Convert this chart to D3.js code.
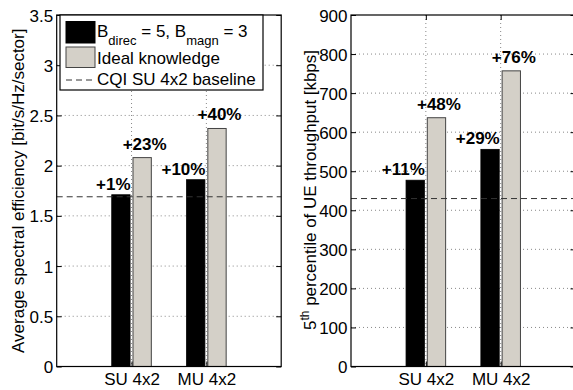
<!DOCTYPE html>
<html>
<head>
<meta charset="utf-8">
<script src="https://cdn.jsdelivr.net/npm/d3@7"></script>
<style>
  body { margin: 0; background: #fff; }
  svg { display: block; font-family: "Liberation Sans", Arial, Helvetica, sans-serif; }
</style>
</head>
<body>
<div id="chart"></div>
<script>
// values
var categories = ["SU 4x2", "MU 4x2"];

var seQuantized = [1.71, 1.86];
var seIdeal = [2.08, 2.37];
var seBaseline = 1.69;
var seGainQuantized = ["+1%", "+10%"];
var seGainIdeal = ["+23%", "+40%"];
var seTicks = [0, 0.5, 1, 1.5, 2, 2.5, 3, 3.5];

var tpQuantized = [477, 556];
var tpIdeal = [637, 757];
var tpBaseline = 430;
var tpGainQuantized = ["+11%", "+29%"];
var tpGainIdeal = ["+48%", "+76%"];
var tpTicks = [0, 100, 200, 300, 400, 500, 600, 700, 800, 900];

var legendLabels = ["Ideal knowledge", "CQI SU 4x2 baseline"];

var svg = d3.select("#chart").append("svg")
    .attr("width", 573)
    .attr("height", 390);

var plotTop = 15, plotBottom = 366.5, plotW = 224.5;
var grayFill = "#d4d0c8";

function drawPanel(x0, yMax, ticks, quant, ideal, baseline, gainQ, gainI) {
    var g = svg.append("g").attr("transform", "translate(" + x0 + ",0)");

    var x = d3.scaleLinear().domain([0, 3]).range([0, plotW]);
    var y = d3.scaleLinear().domain([0, yMax]).range([plotBottom, plotTop]);

    // dotted grid
    g.selectAll(".hgrid").data(ticks.slice(1, -1)).enter().append("line")
        .attr("x1", 0).attr("x2", plotW)
        .attr("y1", function (d) { return y(d); })
        .attr("y2", function (d) { return y(d); })
        .style("stroke", "#888").style("stroke-width", 1)
        .style("stroke-dasharray", "1,3");
    g.selectAll(".vgrid").data([1, 2]).enter().append("line")
        .attr("x1", function (d) { return x(d); })
        .attr("x2", function (d) { return x(d); })
        .attr("y1", plotTop).attr("y2", plotBottom)
        .style("stroke", "#888").style("stroke-width", 1)
        .style("stroke-dasharray", "1,3");

    var bw = x(0.245) - x(0);
    var off = x(0.142) - x(0);

    // quantized feedback bars
    g.selectAll(".barq").data(quant).enter().append("rect")
        .attr("x", function (d, i) { return x(i + 1) - off - bw / 2; })
        .attr("y", function (d) { return y(d); })
        .attr("width", bw)
        .attr("height", function (d) { return plotBottom - y(d); })
        .style("fill", "#000").style("stroke", "#000").style("stroke-width", 0.8);

    // ideal knowledge bars
    g.selectAll(".bari").data(ideal).enter().append("rect")
        .attr("x", function (d, i) { return x(i + 1) + off - bw / 2; })
        .attr("y", function (d) { return y(d); })
        .attr("width", bw)
        .attr("height", function (d) { return plotBottom - y(d); })
        .style("fill", grayFill).style("stroke", "#444").style("stroke-width", 1);

    // baseline
    g.append("line")
        .attr("x1", 0).attr("x2", plotW)
        .attr("y1", y(baseline)).attr("y2", y(baseline))
        .style("stroke", "#333").style("stroke-width", 1)
        .style("stroke-dasharray", "6,4");

    // gain labels
    g.selectAll(".gq").data(quant).enter().append("text")
        .attr("x", function (d, i) { return x(i + 1) - off + bw / 2 + 0.5; })
        .attr("y", function (d) { return y(d) - 5; })
        .style("text-anchor", "end")
        .style("font-size", "17px").style("font-weight", "bold")
        .text(function (d, i) { return gainQ[i]; });
    g.selectAll(".gi").data(ideal).enter().append("text")
        .attr("x", function (d, i) { return x(i + 1) + off + 2.5; })
        .attr("y", function (d) { return y(d) - 8; })
        .style("text-anchor", "middle")
        .style("font-size", "17px").style("font-weight", "bold")
        .text(function (d, i) { return gainI[i]; });

    // box
    g.append("rect")
        .attr("x", 0).attr("y", plotTop)
        .attr("width", plotW).attr("height", plotBottom - plotTop)
        .style("fill", "none").style("stroke", "#000").style("stroke-width", 1.2);

    // axes with inward ticks
    var yAxis = d3.axisLeft(y).tickValues(ticks).tickSize(-5).tickPadding(3.5)
        .tickFormat(d3.format("~g"));
    var ya = g.append("g").call(yAxis);
    ya.select(".domain").remove();
    ya.selectAll("text").style("font-size", "17px").attr("dy", "0.36em");

    var yAxisR = d3.axisRight(y).tickValues(ticks).tickSize(-5).tickFormat("");
    var yr = g.append("g").attr("transform", "translate(" + plotW + ",0)").call(yAxisR);
    yr.select(".domain").remove();

    var xAxis = d3.axisBottom(x).tickValues([1, 2]).tickSize(-5).tickPadding(6.4)
        .tickFormat(function (d) { return categories[d - 1]; });
    var xa = g.append("g").attr("transform", "translate(0," + plotBottom + ")").call(xAxis);
    xa.select(".domain").remove();
    xa.selectAll("text").style("font-size", "17px").attr("dy", "0.71em");

    var xAxisT = d3.axisTop(x).tickValues([1, 2]).tickSize(-5).tickFormat("");
    var xt = g.append("g").attr("transform", "translate(0," + plotTop + ")").call(xAxisT);
    xt.select(".domain").remove();

    return g;
}

drawPanel(56.7, 3.5, seTicks, seQuantized, seIdeal, seBaseline, seGainQuantized, seGainIdeal);
drawPanel(351, 900, tpTicks, tpQuantized, tpIdeal, tpBaseline, tpGainQuantized, tpGainIdeal);

// y labels
svg.append("text")
    .attr("transform", "translate(24," + (plotTop + plotBottom) / 2 + ") rotate(-90)")
    .style("text-anchor", "middle").style("font-size", "17px")
    .text("Average spectral efficiency [bit/s/Hz/sector]");

// right label is drawn narrower in the figure
var yl = svg.append("text")
    .style("text-anchor", "middle").style("font-size", "17px");
yl.append("tspan").text("5");
yl.append("tspan").attr("dy", "-7").style("font-size", "12px").text("th");
yl.append("tspan").attr("dy", "7").text(" percentile of UE throughput [kbps]");
var ylLen = yl.node().getComputedTextLength();
var ylScale = ylLen > 0 ? 280 / ylLen : 1;
yl.attr("transform", "translate(316,190) rotate(-90) scale(" + ylScale + ",1)");

// legend
var lg = svg.append("g").attr("transform", "translate(60,15)");
lg.append("rect")
    .attr("x", 0).attr("y", 0).attr("width", 203).attr("height", 75)
    .style("fill", "#fff").style("stroke", "#000").style("stroke-width", 1.2);
lg.append("rect")
    .attr("x", 6).attr("y", 6.5).attr("width", 29).attr("height", 21.5)
    .style("fill", "#000").style("stroke", "#000");
lg.append("rect")
    .attr("x", 6).attr("y", 32).attr("width", 29).attr("height", 20.5)
    .style("fill", grayFill).style("stroke", "#444");
lg.append("line")
    .attr("x1", 6).attr("x2", 35).attr("y1", 65).attr("y2", 65)
    .style("stroke", "#333").style("stroke-dasharray", "6,4");

var t1 = lg.append("text").attr("x", 37).attr("y", 22).style("font-size", "17px");
t1.append("tspan").text("B");
t1.append("tspan").attr("dy", 7.5).style("font-size", "13px").text("direc");
t1.append("tspan").attr("dy", -7.5).text(" = 5, B");
t1.append("tspan").attr("dy", 7.5).style("font-size", "13px").text("magn");
t1.append("tspan").attr("dy", -7.5).text(" = 3");

lg.selectAll(".lt").data(legendLabels).enter().append("text")
    .attr("x", 37)
    .attr("y", function (d, i) { return 48.5 + i * 21.5; })
    .style("font-size", "17px")
    .text(function (d) { return d; });
</script>
</body>
</html>
